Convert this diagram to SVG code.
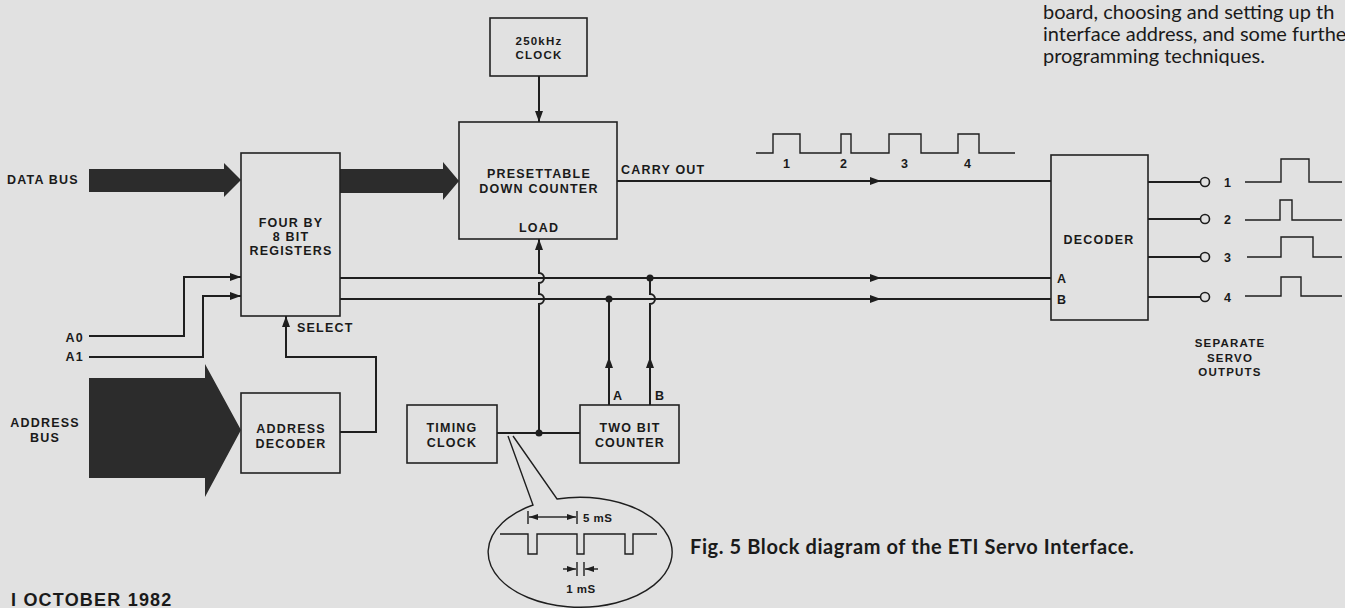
<svg xmlns="http://www.w3.org/2000/svg" width="1345" height="608" viewBox="0 0 1345 608">
<defs>
<marker id="ah" markerUnits="userSpaceOnUse" markerWidth="11" markerHeight="8" viewBox="0 0 11 8" refX="11" refY="4" orient="auto"><path d="M0,0 L11,4 L0,8 z" fill="#1e1e1e"/></marker>
<marker id="as" markerUnits="userSpaceOnUse" markerWidth="9" markerHeight="6" viewBox="0 0 9 6" refX="9" refY="3" orient="auto"><path d="M0,0 L9,3 L0,6 z" fill="#1e1e1e"/></marker>
<style>
.box{fill:none;stroke:#222;stroke-width:1.6}
.w{fill:none;stroke:#1e1e1e;stroke-width:2}
.t{fill:none;stroke:#1e1e1e;stroke-width:1.4}
.bus{fill:#2c2c2c;stroke:none}
.lbl{font-family:"Liberation Sans",Arial,sans-serif;font-size:12.5px;font-weight:bold;letter-spacing:1.2px;fill:#1a1a1a;text-anchor:middle}
.st{text-anchor:start}
.en{text-anchor:end}
.sm{font-size:11.5px}
.body{font-family:Lato,"Liberation Sans",sans-serif;font-size:20px;fill:#1a1a1a}
.cap{font-family:Lato,"Liberation Sans",sans-serif;font-size:20px;font-weight:bold;letter-spacing:0.6px;fill:#1a1a1a}
.dot{fill:#1e1e1e}
.term{fill:#e1e1e1;stroke:#1e1e1e;stroke-width:1.6}
</style>
</defs>
<rect width="1345" height="608" fill="#e1e1e1"/>

<text class="body" x="1043" y="19">board, choosing and setting up th</text>
<text class="body" x="1043" y="41">interface address, and some furthe</text>
<text class="body" x="1043" y="63">programming techniques.</text>

<g id="connectors">
<polygon class="bus" points="89,169 224,169 224,163 241,180 224,197 224,192 89,192"/>
<polygon class="bus" points="340,169 443,169 443,162 459,181 443,200 443,193 340,193"/>
<polygon class="bus" points="89,378 205,378 205,364 241,430 205,497 205,478 89,478"/>
<path class="w" d="M539,76 L539,122" marker-end="url(#ah)"/>
<path class="w" d="M617,181 L1051,181"/>
<path class="w" d="M860,181 L881,181" marker-end="url(#ah)"/>
<path class="w" d="M340,278 L1051,278"/>
<path class="w" d="M860,278 L881,278" marker-end="url(#ah)"/>
<path class="w" d="M340,299 L1051,299"/>
<path class="w" d="M860,299 L881,299" marker-end="url(#ah)"/>
<path class="w" d="M89,336 L184,336 L184,277 L241,277" marker-end="url(#ah)"/>
<path class="w" d="M89,357 L203,357 L203,296 L241,296" marker-end="url(#ah)"/>
<path class="w" d="M340,432 L376,432 L376,357 L286,357 L286,316" marker-end="url(#ah)"/>
<path class="w" d="M497,433 L580,433"/>
<path class="w" d="M539,433 L539,304 A5,5 0 0 0 539,294 L539,283 A5,5 0 0 0 539,273 L539,239" marker-end="url(#ah)"/>
<path class="w" d="M609,405 L609,299"/>
<path class="w" d="M609,380 L609,357" marker-end="url(#ah)"/>
<path class="w" d="M650,405 L650,304 A5,5 0 0 0 650,294 L650,278"/>
<path class="w" d="M650,380 L650,357" marker-end="url(#ah)"/>
<circle class="dot" cx="539" cy="433" r="3.5"/>
<circle class="dot" cx="609" cy="299" r="3.5"/>
<circle class="dot" cx="650" cy="278" r="3.5"/>
<path class="w" d="M1148,182 L1201,182 M1148,219 L1201,219 M1148,257 L1201,257 M1148,297 L1201,297"/>
</g>

<g id="carry-waveform">
<path class="t" d="M756,153 L773,153 L773,134 L800,134 L800,153 L841,153 L841,134 L851,134 L851,153 L889,153 L889,134 L921,134 L921,153 L958,153 L958,134 L979,134 L979,153 L1015,153"/>
<text class="lbl" x="787" y="168">1</text>
<text class="lbl" x="844" y="168">2</text>
<text class="lbl" x="905" y="168">3</text>
<text class="lbl" x="968" y="168">4</text>
</g>

<g id="clock250">
<rect class="box" x="490" y="18" width="97" height="58"/>
<text class="lbl sm" x="539" y="45">250kHz</text>
<text class="lbl sm" x="539" y="59">CLOCK</text>
</g>

<g id="counter">
<rect class="box" x="459" y="122" width="158" height="117"/>
<text class="lbl" x="539" y="178">PRESETTABLE</text>
<text class="lbl" x="539" y="193">DOWN COUNTER</text>
<text class="lbl" x="539" y="232">LOAD</text>
<text class="lbl st" x="621" y="174">CARRY OUT</text>
</g>

<g id="registers">
<rect class="box" x="241" y="153" width="99" height="163"/>
<text class="lbl" x="291" y="227">FOUR BY</text>
<text class="lbl" x="291" y="241">8 BIT</text>
<text class="lbl" x="291" y="255">REGISTERS</text>
<text class="lbl st" x="297" y="332">SELECT</text>
</g>

<g id="inputs">
<text class="lbl st" x="7" y="184">DATA BUS</text>
<text class="lbl en" x="84" y="342">A0</text>
<text class="lbl en" x="84" y="361">A1</text>
<text class="lbl" x="45" y="427">ADDRESS</text>
<text class="lbl" x="45" y="442">BUS</text>
</g>

<g id="addrdec">
<rect class="box" x="241" y="393" width="99" height="80"/>
<text class="lbl" x="291" y="433">ADDRESS</text>
<text class="lbl" x="291" y="448">DECODER</text>
</g>

<g id="timing">
<rect class="box" x="407" y="405" width="90" height="58"/>
<text class="lbl" x="452" y="432">TIMING</text>
<text class="lbl" x="452" y="447">CLOCK</text>
</g>

<g id="twobit">
<rect class="box" x="580" y="405" width="99" height="58"/>
<text class="lbl" x="630" y="432">TWO BIT</text>
<text class="lbl" x="630" y="447">COUNTER</text>
<text class="lbl st" x="613" y="400">A</text>
<text class="lbl st" x="655" y="400">B</text>
</g>

<g id="decoder">
<rect class="box" x="1051" y="155" width="97" height="165"/>
<text class="lbl" x="1099" y="244">DECODER</text>
<text class="lbl st" x="1057" y="283">A</text>
<text class="lbl st" x="1057" y="304">B</text>
</g>

<g id="outputs">
<circle class="term" cx="1205" cy="182" r="4.5"/>
<circle class="term" cx="1205" cy="219" r="4.5"/>
<circle class="term" cx="1205" cy="257" r="4.5"/>
<circle class="term" cx="1205" cy="297" r="4.5"/>
<text class="lbl" x="1228" y="187">1</text>
<text class="lbl" x="1228" y="224">2</text>
<text class="lbl" x="1228" y="262">3</text>
<text class="lbl" x="1228" y="302">4</text>
<path class="t" d="M1245,182 L1281,182 L1281,159 L1309,159 L1309,182 L1342,182"/>
<path class="t" d="M1245,220 L1280,220 L1280,200 L1292,200 L1292,220 L1342,220"/>
<path class="t" d="M1247,257 L1281,257 L1281,237 L1313,237 L1313,257 L1342,257"/>
<path class="t" d="M1245,296 L1281,296 L1281,277 L1301,277 L1301,296 L1342,296"/>
<text class="lbl sm" x="1230" y="347">SEPARATE</text>
<text class="lbl sm" x="1230" y="362">SERVO</text>
<text class="lbl sm" x="1230" y="376">OUTPUTS</text>
</g>

<g id="timing-callout">
<path class="t" d="M508,436 L533,505 A92,55 0 1 0 557,499 L513,436"/>
<path class="t" d="M500,534 L528,534 L528,554 L537,554 L537,534 L577,534 L577,554 L584,554 L584,534 L625,534 L625,554 L633,554 L633,534 L657,534"/>
<path class="t" d="M528,511 L528,524 M577,511 L577,524"/>
<path class="t" d="M552,517 L529,517" marker-end="url(#as)"/>
<path class="t" d="M552,517 L576,517" marker-end="url(#as)"/>
<text class="lbl sm" x="583" y="522" style="text-anchor:start;letter-spacing:0.5px">5 mS</text>
<path class="t" d="M577,562 L577,576 M584,562 L584,576"/>
<path class="t" d="M563,569 L576,569" marker-end="url(#as)"/>
<path class="t" d="M598,569 L585,569" marker-end="url(#as)"/>
<text class="lbl sm" x="581" y="593" style="letter-spacing:0.5px">1 mS</text>
</g>

<text class="cap" x="690" y="554">Fig. 5 Block diagram of the ETI Servo Interface.</text>
<text class="lbl" x="11" y="606" style="text-anchor:start;font-size:18px;letter-spacing:1.2px">I OCTOBER 1982</text>
</svg>
